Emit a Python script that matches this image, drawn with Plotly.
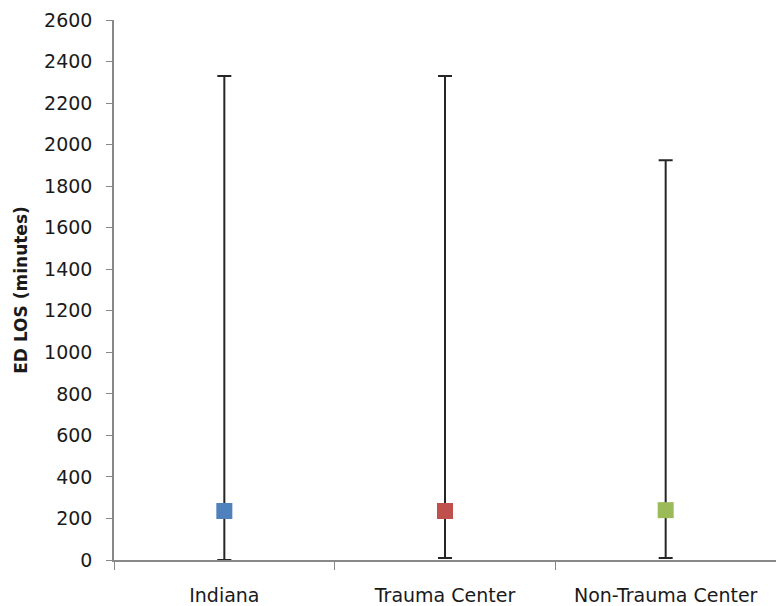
import plotly.graph_objects as go

categories = ["Indiana", "Trauma Center", "Non-Trauma Center"]
median_los = [236, 236, 240]
upper_los = [2330, 2330, 1925]
lower_los = [0, 10, 10]
colors = ["#4F81BD", "#C0504D", "#9BBB59"]
y_ticks = list(range(0, 2601, 200))

fig = go.Figure()
for cat, m, up, lo, c in zip(categories, median_los, upper_los, lower_los, colors):
    fig.add_trace(go.Scatter(
        x=[cat], y=[m], mode="markers",
        marker=dict(symbol="square", size=16, color=c),
        error_y=dict(type="data", symmetric=False, array=[up - m], arrayminus=[m - lo],
                     color="#262626", thickness=2, width=7),
        showlegend=False,
    ))

font_family = "'DejaVu Sans', sans-serif"
fig.update_layout(
    width=776, height=606,
    margin=dict(l=114, r=0, t=20, b=46, autoexpand=False),
    plot_bgcolor="white", paper_bgcolor="white",
    font=dict(family=font_family, size=19, color="#1a1a1a"),
)
fig.update_xaxes(
    type="category", categoryorder="array", categoryarray=categories,
    range=[-0.5, 2.5], showgrid=False, showline=True, linecolor="#888888", linewidth=1.5,
    ticks="outside", tickson="boundaries", ticklen=8, tickcolor="#888888",
    ticklabelstandoff=17, tickfont=dict(size=19), automargin=False,
)
fig.update_yaxes(
    range=[0, 2600], tickvals=y_ticks, showgrid=False, zeroline=False,
    showline=True, linecolor="#888888", linewidth=1.5,
    ticks="outside", ticklen=6, tickcolor="#888888", tickfont=dict(size=19),
    ticklabelstandoff=10, automargin=False,
    title=dict(text="<b>ED LOS (minutes)</b>", font=dict(size=17), standoff=12),
)
fig.write_html("out.html", config={"displayModeBar": False},
               post_script="document.body.style.margin='0px';")
